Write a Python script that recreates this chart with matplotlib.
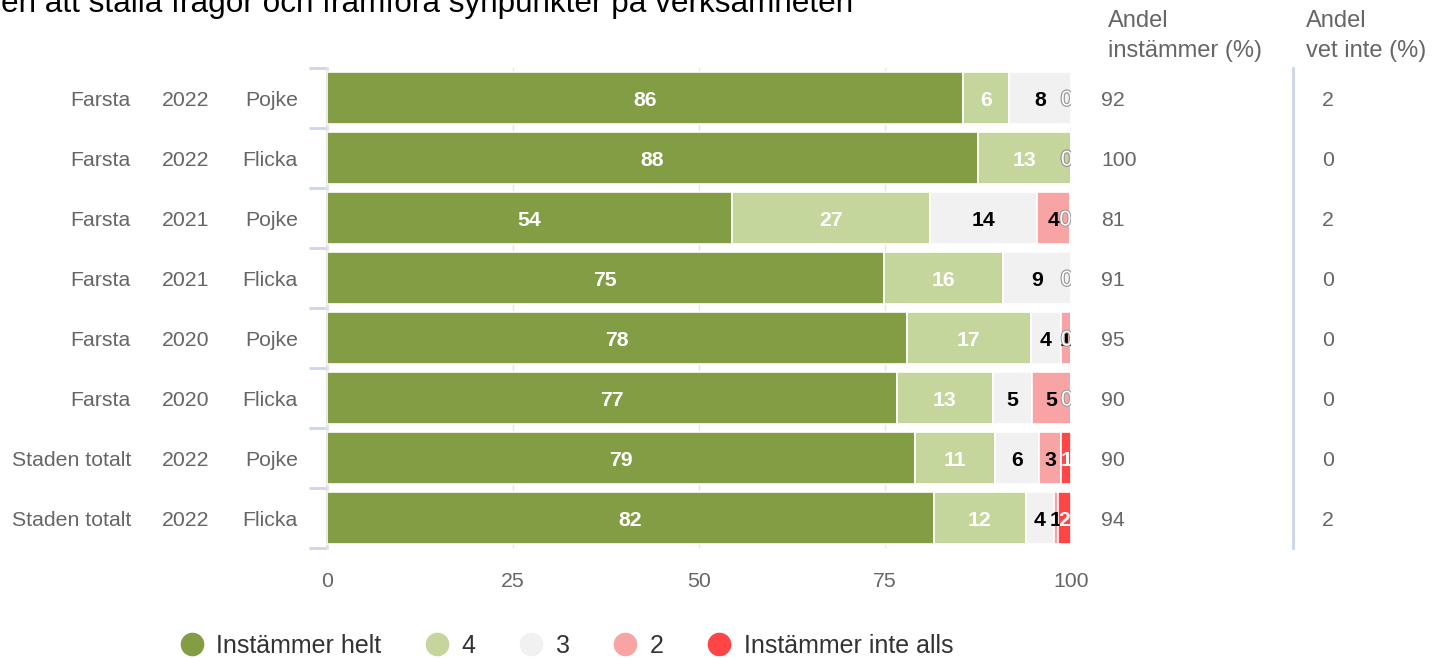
import matplotlib
matplotlib.use("Agg")
import matplotlib.pyplot as plt
import matplotlib.patheffects as pe
from matplotlib.lines import Line2D
from matplotlib.transforms import blended_transform_factory, offset_copy
import numpy as np

plt.rcParams['font.family'] = ['Liberation Sans', 'DejaVu Sans']

# --- data: one row per group, top to bottom
areas = ["Farsta", "Farsta", "Farsta", "Farsta", "Farsta", "Farsta",
         "Staden totalt", "Staden totalt"]
years = ["2022", "2022", "2021", "2021", "2020", "2020", "2022", "2022"]
genders = ["Pojke", "Flicka", "Pojke", "Flicka", "Pojke", "Flicka", "Pojke", "Flicka"]

series_names = ["Instämmer helt", "4", "3", "2", "Instämmer inte alls"]
helt = [85.5, 87.5, 54.4, 74.8, 77.9, 76.6, 79.0, 81.6]
fyra = [6.1, 12.5, 26.6, 16.0, 16.7, 12.9, 10.8, 12.3]
tre = [8.4, 0.0, 14.4, 9.2, 4.0, 5.3, 5.9, 3.8]
tva = [0.0, 0.0, 4.4, 0.0, 1.4, 5.2, 3.0, 0.5]
inte_alls = [0.0, 0.0, 0.0, 0.0, 0.0, 0.0, 1.3, 1.8]

andel_instammer = [92, 100, 81, 91, 95, 90, 90, 94]
andel_vet_inte = [2, 0, 2, 0, 0, 0, 0, 2]

x_ticks = [0, 25, 50, 75, 100]
title_text = "en att ställa frågor och framföra synpunkter på verksamheten"

# --- styles
colors = ["#829d44", "#c5d69d", "#f1f1f1", "#f9a4a4", "#ff4545"]
label_colors = ["white", "white", "black", "black", "white"]
grey_text = "#666666"
FS = 15.3


def round_half_up(v):
    return int(np.floor(v + 0.5))


W, H = 1432, 658
fig = plt.figure(figsize=(W / 100, H / 100), dpi=100)
ax = fig.add_axes([327 / W, 1 - 548 / H, (1071 - 327) / W, 480 / H])

# zero-width segments get their label nudged a little to the left
zero_tr = offset_copy(ax.transData, fig=fig, x=-3, units="points")

series = [helt, fyra, tre, tva, inte_alls]
y = np.arange(len(areas))
left = np.zeros(len(areas))
for vals, col, tcol in zip(series, colors, label_colors):
    vals = np.array(vals)
    ax.barh(y, vals, left=left, height=0.86, color=col, edgecolor="white",
            linewidth=1.2, zorder=3)
    for yi, (l, v) in enumerate(zip(left, vals)):
        if v > 0:
            ax.text(l + v / 2, yi, str(round_half_up(v)), ha="center",
                    va="center_baseline", fontsize=FS, fontweight="bold",
                    color=tcol, zorder=5, clip_on=True)
        else:
            t = ax.text(l, yi, "0", transform=zero_tr, ha="center",
                        va="center_baseline", fontsize=FS, color="white",
                        zorder=5, clip_on=True)
            t.set_path_effects([pe.withStroke(linewidth=1.5, foreground="#999999")])
    left = left + vals

ax.set_xlim(0, 100)
ax.set_ylim(len(areas) - 0.5, -0.5)
ax.set_xticks(x_ticks)
ax.set_xticklabels([str(t) for t in x_ticks])
ax.tick_params(axis="x", length=0, pad=17, labelsize=FS, labelcolor=grey_text)
ax.grid(axis="x", color="#e6e6e6", linewidth=1, zorder=0)

# category boundaries as short ticks on the left axis
ax.set_yticks([])
ax.set_yticks(np.arange(-0.5, len(areas)), minor=True)
ax.tick_params(axis="y", which="minor", length=13, width=2, color="#ccd6eb")
for s in ["top", "right", "bottom"]:
    ax.spines[s].set_visible(False)
ax.spines["left"].set_color("#e2e2e2")
ax.spines["left"].set_linewidth(2)

# three label columns on the left, two value columns on the right
tr = blended_transform_factory(fig.transFigure, ax.transData)
for yi in y:
    ax.text(131 / W, yi, areas[yi], transform=tr, ha="right",
            va="center_baseline", fontsize=FS, color=grey_text)
    ax.text(186 / W, yi, years[yi], transform=tr, ha="center",
            va="center_baseline", fontsize=FS, color=grey_text)
    ax.text(298 / W, yi, genders[yi], transform=tr, ha="right",
            va="center_baseline", fontsize=FS, color=grey_text)
    ax.text(1101 / W, yi, str(andel_instammer[yi]), transform=tr, ha="left",
            va="center_baseline", fontsize=FS, color=grey_text)
    ax.text(1322 / W, yi, str(andel_vet_inte[yi]), transform=tr, ha="left",
            va="center_baseline", fontsize=FS, color=grey_text)

# table headers on the right
fig.text(1108 / W, 1 - 36 / H, "Andel\ninstämmer (%)", ha="left", va="center",
         fontsize=17, color=grey_text, linespacing=1.45)
fig.text(1306 / W, 1 - 36 / H, "Andel\nvet inte (%)", ha="left", va="center",
         fontsize=17, color=grey_text, linespacing=1.45)
fig.add_artist(Line2D([1293 / W, 1293 / W], [1 - 68 / H, 1 - 548 / H],
                      transform=fig.transFigure, color="#ccd6eb", linewidth=2))

# title, running off the top left edge
fig.text(853 / W, 1 - 12 / H, title_text, ha="right", va="baseline",
         fontsize=22.7, color="black")

# legend
handles = [Line2D([], [], marker="o", linestyle="", markersize=16,
                  markerfacecolor=c, markeredgecolor=c) for c in colors]
leg = fig.legend(handles, series_names, loc="center", ncol=5, frameon=False,
                 bbox_to_anchor=(566 / W, 1 - 646 / H), fontsize=18,
                 handletextpad=0.5, columnspacing=1.7, handlelength=1.0,
                 labelcolor="#333333")

fig.savefig("out.png", dpi=100)
